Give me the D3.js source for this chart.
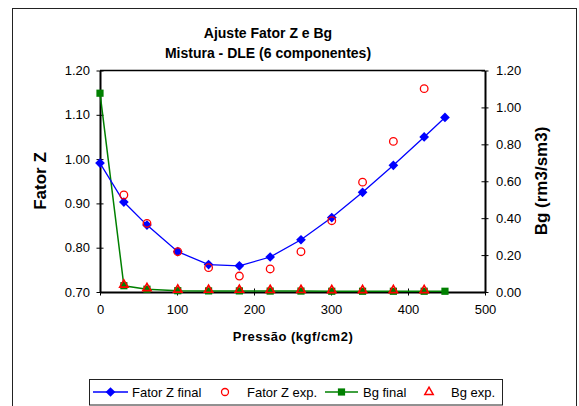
<!DOCTYPE html>
<html>
<head>
<meta charset="utf-8">
<script src="https://cdn.jsdelivr.net/npm/d3@7"></script>
<style>
  html, body { margin: 0; padding: 0; background: #fff; }
  svg { display: block; font-family: "Liberation Sans", Arial, sans-serif; }
</style>
</head>
<body>
<svg id="chart" width="579" height="406"></svg>
<script>
// Pressure levels (kgf/cm2)
const pressure = [0, 31, 61, 101, 141, 181, 221, 261, 301, 341, 381, 421, 448];
// Z factor: fitted values at every pressure
const zFinal = [0.991, 0.903, 0.851, 0.791, 0.762, 0.759, 0.779, 0.818, 0.868, 0.925, 0.986, 1.050, 1.094];
// Z factor: experimental (no value at 0 and at 448)
const zExpPressure = [31, 61, 101, 141, 181, 221, 261, 301, 341, 381, 421];
const zExp = [0.919, 0.855, 0.791, 0.755, 0.736, 0.752, 0.791, 0.861, 0.948, 1.040, 1.159];
// Gas formation volume factor Bg (rm3/sm3)
const bgFinal = [1.077, 0.034, 0.015, 0.007, 0.006, 0.006, 0.005, 0.005, 0.004, 0.004, 0.004, 0.004, 0.004];
const bgExpPressure = [31, 61, 101, 141, 181, 221, 261, 301, 341, 381, 421];
const bgExp = [0.034, 0.015, 0.007, 0.006, 0.006, 0.005, 0.005, 0.004, 0.004, 0.004, 0.004];

const xTicks = [0, 100, 200, 300, 400, 500];
const zTicks = [0.70, 0.80, 0.90, 1.00, 1.10, 1.20];
const bgTicks = [0.00, 0.20, 0.40, 0.60, 0.80, 1.00, 1.20];

const titleLines = ["Ajuste Fator Z e Bg", "Mistura - DLE (6 componentes)"];
const legendItems = ["Fator Z final", "Fator Z exp.", "Bg final", "Bg exp."];

const svg = d3.select("#chart");
const plot = { left: 100, right: 485, top: 70.5, bottom: 292 };

const x = d3.scaleLinear().domain([0, 500]).range([plot.left, plot.right]);
const yZ = d3.scaleLinear().domain([0.70, 1.20]).range([plot.bottom, plot.top]);
const yBg = d3.scaleLinear().domain([0, 1.20]).range([plot.bottom, plot.top]);

// Outer chart frame
svg.append("rect").attr("x", 12.5).attr("y", 8.5).attr("width", 564).attr("height", 420)
  .attr("fill", "none").attr("stroke", "#222").attr("stroke-width", 1);

// Title
svg.selectAll("text.title").data(titleLines).join("text")
  .attr("class", "title")
  .attr("x", 268).attr("y", (d, i) => 38 + i * 20)
  .attr("text-anchor", "middle")
  .attr("font-size", 14).attr("font-weight", "bold")
  .text(d => d);

// Plot frame (top edge)
svg.append("line").attr("x1", plot.left).attr("x2", plot.right)
  .attr("y1", plot.top).attr("y2", plot.top).attr("stroke", "#000").attr("stroke-width", 1.5);

// Axes with ticks crossing the axis line
function styleAxis(g) {
  g.select(".domain").attr("stroke", "#000").attr("stroke-width", 2);
  g.selectAll(".tick line").attr("stroke", "#000").attr("stroke-width", 1);
  g.selectAll(".tick text").attr("font-size", 13).attr("fill", "#000")
    .attr("font-family", "'Liberation Sans', Arial, sans-serif");
}

const xAxis = svg.append("g").attr("transform", `translate(0,${plot.bottom})`)
  .call(d3.axisBottom(x).tickValues(xTicks).tickFormat(d3.format("d")).tickSize(0).tickSizeOuter(0).tickPadding(13));
styleAxis(xAxis);
xAxis.selectAll(".tick").append("line").attr("y1", -3.5).attr("y2", 3.5).attr("stroke", "#000");

const yAxisL = svg.append("g").attr("transform", `translate(${plot.left},0)`)
  .call(d3.axisLeft(yZ).tickValues(zTicks).tickFormat(d3.format(".2f")).tickSize(0).tickSizeOuter(0).tickPadding(10));
styleAxis(yAxisL);
yAxisL.selectAll(".tick").append("line").attr("x1", -3.5).attr("x2", 3.5).attr("stroke", "#000");

const yAxisR = svg.append("g").attr("transform", `translate(${plot.right},0)`)
  .call(d3.axisRight(yBg).tickValues(bgTicks).tickFormat(d3.format(".2f")).tickSize(0).tickSizeOuter(0).tickPadding(11));
styleAxis(yAxisR);
yAxisR.selectAll(".tick").append("line").attr("x1", -3.5).attr("x2", 3.5).attr("stroke", "#000");

// Axis titles
svg.append("text").attr("transform", `translate(46,181) rotate(-90)`)
  .attr("text-anchor", "middle").attr("font-size", 17).attr("font-weight", "bold").text("Fator Z");
svg.append("text").attr("transform", `translate(547,181) rotate(-90)`)
  .attr("text-anchor", "middle").attr("font-size", 17).attr("font-weight", "bold").text("Bg (rm3/sm3)");
svg.append("text").attr("x", 293).attr("y", 341)
  .attr("text-anchor", "middle").attr("font-size", 13).attr("font-weight", "bold")
  .attr("letter-spacing", 0.5).text("Pressão (kgf/cm2)");

// Series
const blue = "#0000ff", red = "#ff0000", green = "#008000";
const diamond = d3.symbol().type(d3.symbolDiamond2).size(60);
const square = d3.symbol().type(d3.symbolSquare).size(52);
const triangle = d3.symbol().type(d3.symbolTriangle2).size(50);

// Bg final
svg.append("path").datum(pressure.map((p, i) => [p, bgFinal[i]]))
  .attr("fill", "none").attr("stroke", green).attr("stroke-width", 1.5)
  .attr("d", d3.line().x(d => x(d[0])).y(d => yBg(d[1])));
svg.selectAll("path.bgf").data(pressure.map((p, i) => [p, bgFinal[i]])).join("path")
  .attr("class", "bgf").attr("d", square).attr("fill", green)
  .attr("transform", d => `translate(${x(d[0])},${yBg(d[1])})`);

// Z final
svg.append("path").datum(pressure.map((p, i) => [p, zFinal[i]]))
  .attr("fill", "none").attr("stroke", blue).attr("stroke-width", 1.3)
  .attr("d", d3.line().x(d => x(d[0])).y(d => yZ(d[1])));
svg.selectAll("path.zf").data(pressure.map((p, i) => [p, zFinal[i]])).join("path")
  .attr("class", "zf").attr("d", diamond).attr("fill", blue)
  .attr("transform", d => `translate(${x(d[0])},${yZ(d[1])})`);

// Z experimental
svg.selectAll("circle.ze").data(zExpPressure.map((p, i) => [p, zExp[i]])).join("circle")
  .attr("class", "ze").attr("cx", d => x(d[0])).attr("cy", d => yZ(d[1])).attr("r", 3.8)
  .attr("fill", "none").attr("stroke", red).attr("stroke-width", 1.3);

// Bg experimental
svg.selectAll("path.bge").data(bgExpPressure.map((p, i) => [p, bgExp[i]])).join("path")
  .attr("class", "bge").attr("d", triangle).attr("fill", "none").attr("stroke", red).attr("stroke-width", 1.6)
  .attr("transform", d => `translate(${x(d[0])},${yBg(d[1]) - 1})`);

// Legend
const lg = svg.append("g");
lg.append("rect").attr("x", 89.5).attr("y", 379.5).attr("width", 413).attr("height", 25.5)
  .attr("fill", "#fff").attr("stroke", "#222").attr("stroke-width", 1);
const legendX = [{ x1: 93, x2: 128, tx: 132 }, { x1: 218, x2: 232, tx: 247 }, { x1: 325, x2: 358, tx: 363 }, { x1: 422, x2: 436, tx: 451 }];
const ly = 392;
legendItems.forEach((name, i) => {
  const p = legendX[i];
  const cx = (p.x1 + p.x2) / 2;
  if (i === 0) {
    lg.append("line").attr("x1", p.x1).attr("x2", p.x2).attr("y1", ly).attr("y2", ly).attr("stroke", blue).attr("stroke-width", 1.3);
    lg.append("path").attr("d", diamond).attr("fill", blue).attr("transform", `translate(${cx},${ly})`);
  } else if (i === 1) {
    lg.append("circle").attr("cx", cx).attr("cy", ly).attr("r", 3.5).attr("fill", "none").attr("stroke", red).attr("stroke-width", 1.3);
  } else if (i === 2) {
    lg.append("line").attr("x1", p.x1).attr("x2", p.x2).attr("y1", ly).attr("y2", ly).attr("stroke", green).attr("stroke-width", 1.5);
    lg.append("path").attr("d", square).attr("fill", green).attr("transform", `translate(${cx},${ly})`);
  } else {
    lg.append("path").attr("d", triangle).attr("fill", "none").attr("stroke", red).attr("stroke-width", 1.5).attr("transform", `translate(${cx},${ly})`);
  }
  lg.append("text").attr("x", p.tx).attr("y", ly).attr("dy", "0.35em").attr("font-size", 13).text(name);
});
</script>
</body>
</html>
